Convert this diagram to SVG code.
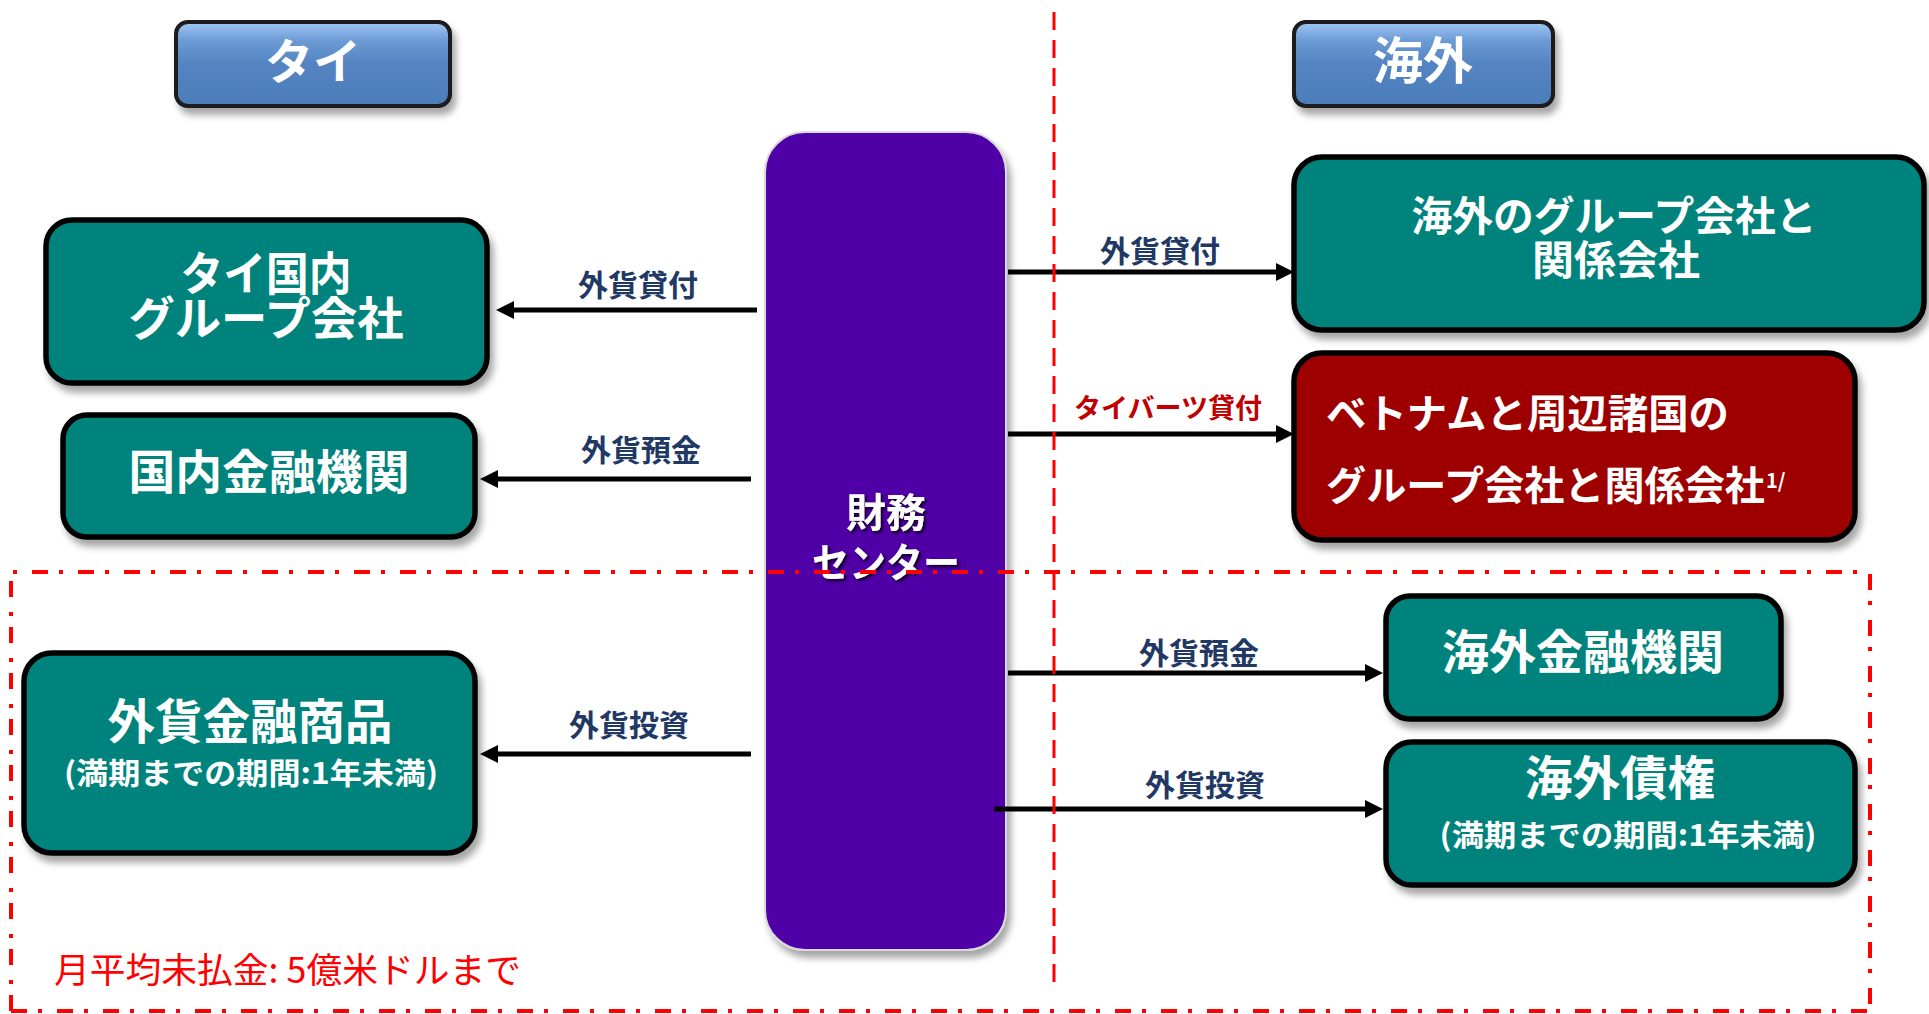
<svg xmlns="http://www.w3.org/2000/svg" width="1929" height="1014" viewBox="0 0 1929 1014">
<style>
.jp{font-family:'Noto Sans CJK JP','Noto Sans',sans-serif;}
.nb{stroke:#000;stroke-width:5.5;}
.teal{fill:#01837B;}
.t{font-family:'Noto Sans CJK JP','Noto Sans',sans-serif;font-weight:700;fill:#fff;text-anchor:middle;}
.lbl{font-family:'Noto Sans CJK JP','Noto Sans',sans-serif;font-weight:700;fill:#1F3864;font-size:30px;text-anchor:middle;}
.conn line{stroke:#000;stroke-width:5;marker-end:url(#ah);}
.dash{stroke:#FF0000;stroke-width:3;stroke-dasharray:18 10;fill:none;}
.dashdot{stroke:#FF0000;stroke-width:4;stroke-dasharray:16 11 4 15;fill:none;}
</style>
<defs>
<linearGradient id="hdr" x1="0" y1="0" x2="0" y2="1">
<stop offset="0" stop-color="#A3C8F7"/>
<stop offset="0.22" stop-color="#6C9BD5"/>
<stop offset="0.5" stop-color="#5384C1"/>
<stop offset="1" stop-color="#4C7DBA"/>
</linearGradient>
<filter id="sh" x="-10%" y="-10%" width="130%" height="140%"><feDropShadow dx="4" dy="7" stdDeviation="3.5" flood-color="#000" flood-opacity="0.35"/></filter>
<filter id="tsh" x="-10%" y="-20%" width="130%" height="150%"><feDropShadow dx="2" dy="2" stdDeviation="1.5" flood-color="#000" flood-opacity="0.85"/></filter>
<marker id="ah" markerUnits="userSpaceOnUse" markerWidth="20" markerHeight="18" refX="8" refY="9" orient="auto"><path d="M0,0 L18,9 L0,18 z" fill="#000"/></marker>
</defs>
<rect width="1929" height="1014" fill="#fff"/>

<g id="header-thai">
<rect x="176" y="22" width="274" height="84" rx="12" fill="url(#hdr)" stroke="#1a1a1a" stroke-width="4" filter="url(#sh)"/>
<text class="t" x="313" y="79" font-size="48">タイ</text>
</g>
<g id="header-overseas">
<rect x="1294" y="22" width="259" height="84" rx="12" fill="url(#hdr)" stroke="#1a1a1a" stroke-width="4" filter="url(#sh)"/>
<text class="t" x="1423" y="79" font-size="50">海外</text>
</g>

<g id="thai-group">
<rect class="nb teal" x="46" y="220" width="441" height="163" rx="26" filter="url(#sh)"/>
<text class="t" x="266" y="290" font-size="46" textLength="171" lengthAdjust="spacingAndGlyphs">タイ国内</text>
<text class="t" x="266" y="335" font-size="46" textLength="275" lengthAdjust="spacingAndGlyphs">グループ会社</text>
</g>
<g id="domestic-fi">
<rect class="nb teal" x="63" y="415" width="412" height="122" rx="24" filter="url(#sh)"/>
<text class="t" x="269" y="489" font-size="47" textLength="281" lengthAdjust="spacingAndGlyphs">国内金融機関</text>
</g>
<g id="fx-products">
<rect class="nb teal" x="24" y="653" width="451" height="200" rx="28" filter="url(#sh)"/>
<text class="t" x="250" y="739" font-size="48" textLength="285" lengthAdjust="spacingAndGlyphs">外貨金融商品</text>
<text class="t" x="251" y="784" font-size="30" textLength="374" lengthAdjust="spacingAndGlyphs">(満期までの期間:1年未満)</text>
</g>

<g id="treasury-center">
<rect x="765" y="132" width="241" height="818" rx="40" fill="#5000A6" stroke="#d9d9d9" stroke-width="2" filter="url(#sh)"/>
<text class="t" x="886" y="527" font-size="40" filter="url(#tsh)">財務</text>
<text class="t" x="886" y="577" font-size="40" textLength="148" lengthAdjust="spacingAndGlyphs" filter="url(#tsh)">センター</text>
</g>

<g id="overseas-group">
<rect class="nb teal" x="1294" y="157" width="630" height="173" rx="28" filter="url(#sh)"/>
<text class="t" x="1614" y="231" font-size="41" textLength="405" lengthAdjust="spacingAndGlyphs">海外のグループ会社と</text>
<text class="t" x="1616" y="275" font-size="41" textLength="168" lengthAdjust="spacingAndGlyphs">関係会社</text>
</g>
<g id="vietnam-group">
<rect class="nb" x="1294" y="353" width="561" height="187" rx="28" fill="#9E0000" filter="url(#sh)"/>
<text class="jp" x="1326" y="428" font-size="40" font-weight="700" fill="#fff" textLength="403" lengthAdjust="spacingAndGlyphs">ベトナムと周辺諸国の</text>
<text class="jp" x="1326" y="500" font-size="40" font-weight="700" fill="#fff" textLength="439" lengthAdjust="spacingAndGlyphs">グループ会社と関係会社</text>
<text class="jp" x="1766" y="488" font-size="20" font-weight="700" fill="#fff">1/</text>
</g>
<g id="overseas-fi">
<rect class="nb teal" x="1386" y="596" width="395" height="123" rx="24" filter="url(#sh)"/>
<text class="t" x="1583" y="669" font-size="47" textLength="282" lengthAdjust="spacingAndGlyphs">海外金融機関</text>
</g>
<g id="overseas-bonds">
<rect class="nb teal" x="1386" y="742" width="469" height="143" rx="26" filter="url(#sh)"/>
<text class="t" x="1620" y="795" font-size="47" textLength="190" lengthAdjust="spacingAndGlyphs">海外債権</text>
<text class="t" x="1628" y="846" font-size="30" textLength="377" lengthAdjust="spacingAndGlyphs">(満期までの期間:1年未満)</text>
</g>

<g id="connectors" class="conn">
<line x1="757" y1="310" x2="506" y2="310"/>
<line x1="751" y1="479" x2="490" y2="479"/>
<line x1="751" y1="754" x2="490" y2="754"/>
<line x1="1008" y1="272" x2="1284" y2="272"/>
<line x1="1008" y1="434" x2="1284" y2="434"/>
<line x1="1008" y1="673" x2="1373" y2="673"/>
<line x1="994" y1="809" x2="1373" y2="809"/>
</g>
<g id="connector-labels">
<text class="lbl" x="638" y="296">外貨貸付</text>
<text class="lbl" x="641" y="461">外貨預金</text>
<text class="lbl" x="629" y="736">外貨投資</text>
<text class="lbl" x="1160" y="262">外貨貸付</text>
<text class="lbl" x="1168" y="418" style="fill:#C00000;font-size:27px">タイバーツ貸付</text>
<text class="lbl" x="1199" y="664">外貨預金</text>
<text class="lbl" x="1205" y="796">外貨投資</text>
</g>

<g id="boundaries">
<line class="dash" x1="1054" y1="12" x2="1054" y2="990"/>
<path class="dashdot" d="M11,1011 V572 H1870 V1014"/>
<line class="dashdot" x1="11" y1="1011" x2="1870" y2="1011"/>
</g>
<text class="jp" x="54" y="983" font-size="35" fill="#FF0000" textLength="467" lengthAdjust="spacingAndGlyphs">月平均未払金: 5億米ドルまで</text>
</svg>
